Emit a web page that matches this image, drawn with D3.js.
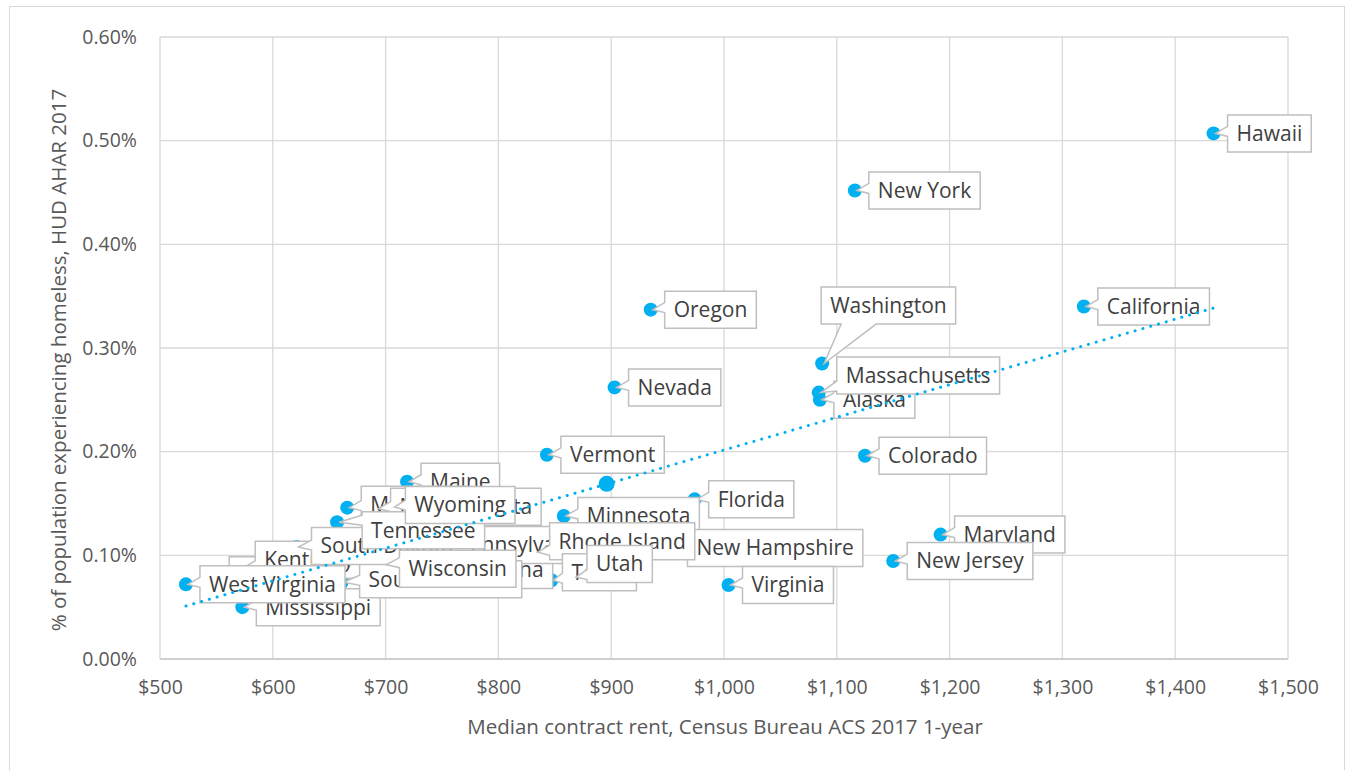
<!DOCTYPE html>
<html lang="en">
<head>
<meta charset="utf-8">
<title>Homelessness vs rent</title>
<style>
  body { margin: 0; background: #fff; }
  svg text { font-family: "Open Sans", sans-serif; }
  .grid line { stroke: #d9d9d9; stroke-width: 1.3; }
  .axis text { fill: #595959; font-size: 19.5px; }
  .title { fill: #595959; font-size: 20.5px; }
  .callout path { fill: #fff; stroke: #bfbfbf; stroke-width: 1.5; }
  .callout text { fill: #404040; font-size: 21px; }
</style>
</head>
<body>
<svg width="1353" height="770"></svg>
<script src="https://d3js.org/d3.v7.min.js"></script>
<script>
// states in alphabetical order (labels are drawn in this order, later ones on top)
var states = ["Alaska", "Arkansas", "California", "Colorado", "Florida", "Hawaii", "Kentucky",
  "Maine", "Maryland", "Massachusetts", "Minnesota", "Mississippi", "Montana", "Nevada",
  "New Hampshire", "New Jersey", "New York", "North Carolina", "North Dakota", "Oregon",
  "Pennsylvania", "Rhode Island", "South Carolina", "South Dakota", "Tennessee", "Texas",
  "Utah", "Vermont", "Virginia", "Washington", "West Virginia", "Wisconsin", "Wyoming"];
// median contract rent ($)
var rent = [1085, 549, 1319, 1125, 974, 1434, 572,
  719, 1192, 1084, 858, 573, 666, 903,
  957, 1150, 1116, 692, 692, 935,
  743, 833, 661, 621, 657, 847,
  867, 843, 1004, 1087, 523, 699, 706];
// % of population experiencing homelessness
var homelessPct = [0.250, 0.078, 0.340, 0.196, 0.154, 0.507, 0.088,
  0.171, 0.120, 0.257, 0.138, 0.050, 0.146, 0.262,
  0.110, 0.0945, 0.452, 0.081, 0.145, 0.337,
  0.110, 0.103, 0.074, 0.108, 0.132, 0.076,
  0.079, 0.197, 0.0714, 0.285, 0.072, 0.091, 0.1466];
// national point (no label)
var usPoint = [896, 0.169];
// linear trendline ends [rent, pct]
var trendEnds = [[523, 0.0511], [1434, 0.3385]];
var xTicks = [500, 600, 700, 800, 900, 1000, 1100, 1200, 1300, 1400, 1500];
var yTicks = [0, 0.1, 0.2, 0.3, 0.4, 0.5, 0.6];

// label placement tweaks: box left = x + dx, box middle = y + dy
var nudge = {
  "Washington": {dx: -1, dy: -58},
  "Massachusetts": {dx: 18, dy: -17},
  "Tennessee": {dx: 25, dy: 8},
  "Rhode Island": {dx: 14, dy: -11},
  "Utah": {dx: 13, dy: -13},
  "South Carolina": {dx: 18, dy: -3},
  "South Dakota": {dx: 15, dy: -1},
  "Wisconsin": {dx: 15, dy: 4},
  "Kentucky": {dx: 14, dy: -8},
  "Arkansas": {dx: 14, dy: -3},
  "Montana": {dx: 14, dy: -3},
  "Wyoming": {dx: 13, dy: -2},
  "North Dakota": {dx: 14, dy: -2},
  "North Carolina": {dx: 14, dy: -5},
  "Texas": {dx: 11, dy: -8},
  "New Hampshire": {dx: 12, dy: 3}
};

var data = states.map(function(s, i) { return {name: s, rent: rent[i], pct: homelessPct[i]}; });

var svg = d3.select("svg"),
    plot = {left: 160, right: 1288, top: 37, bottom: 659},
    blue = "#00b0f0";

var x = d3.scaleLinear().domain([500, 1500]).range([plot.left, plot.right]),
    y = d3.scaleLinear().domain([0, 0.6]).range([plot.bottom, plot.top]);

// outer frame
svg.append("rect")
  .attr("x", 9.5).attr("y", 6.5).attr("width", 1335).attr("height", 800)
  .attr("fill", "none").attr("stroke", "#d9d9d9");

// grid
var grid = svg.append("g").attr("class", "grid");
grid.selectAll(".h").data(yTicks).enter().append("line")
  .attr("x1", plot.left).attr("x2", plot.right)
  .attr("y1", function(d) { return y(d); }).attr("y2", function(d) { return y(d); });
grid.selectAll(".v").data(xTicks).enter().append("line")
  .attr("y1", plot.top).attr("y2", plot.bottom)
  .attr("x1", function(d) { return x(d); }).attr("x2", function(d) { return x(d); });
svg.append("line")
  .attr("x1", plot.left).attr("x2", plot.right).attr("y1", plot.bottom).attr("y2", plot.bottom)
  .attr("stroke", "#c8c8c8").attr("stroke-width", 1.3);

// axes (labels only)
var xAxis = d3.axisBottom(x).tickValues(xTicks).tickSize(0).tickPadding(21)
      .tickFormat(d3.format("$,.0f")),
    yAxis = d3.axisLeft(y).tickValues(yTicks).tickSize(0).tickPadding(23)
      .tickFormat(function(d) { return d.toFixed(2) + "%"; });

svg.append("g").attr("class", "axis")
  .attr("transform", "translate(0," + plot.bottom + ")")
  .call(xAxis).call(function(g) { g.select(".domain").remove(); })
  .selectAll("text").attr("font-family", null).attr("font-size", null);
svg.append("g").attr("class", "axis")
  .attr("transform", "translate(" + plot.left + ",0)")
  .call(yAxis).call(function(g) { g.select(".domain").remove(); })
  .selectAll("text").attr("font-family", null).attr("font-size", null);

svg.append("text").attr("class", "title")
  .attr("x", 725).attr("y", 734)
  .attr("text-anchor", "middle")
  .text("Median contract rent, Census Bureau ACS 2017 1-year");
svg.append("text").attr("class", "title")
  .attr("transform", "translate(66,360) rotate(-90)")
  .attr("text-anchor", "middle")
  .text("% of population experiencing homeless, HUD AHAR 2017");

// points
svg.append("g").selectAll("circle").data(data).enter().append("circle")
  .attr("cx", function(d) { return x(d.rent); })
  .attr("cy", function(d) { return y(d.pct); })
  .attr("r", 7).attr("fill", blue);
svg.append("circle")
  .attr("cx", x(usPoint[0])).attr("cy", y(usPoint[1]))
  .attr("r", 8).attr("fill", blue);

// callout labels
function calloutPath(bx, by, bw, bh, tx, ty) {
  var p = "M" + bx + "," + by + "H" + (bx + bw);
  if (ty > by + bh) { // tail from bottom edge
    var x1 = bx + 20, x2 = bx + 55;
    return p + "V" + (by + bh) + "H" + x2 + "L" + tx + "," + ty + "L" + x1 + "," + (by + bh) + "H" + bx + "Z";
  }
  if (tx < bx) { // tail from left edge
    var c = Math.max(by + 8, Math.min(by + bh - 6, ty));
    return p + "V" + (by + bh) + "H" + bx + "V" + (c + 3) + "L" + tx + "," + ty + "L" + bx + "," + (c - 7) + "Z";
  }
  return p + "V" + (by + bh) + "H" + bx + "Z";
}

var labels = svg.append("g").selectAll("g").data(data).enter().append("g").attr("class", "callout");
labels.each(function(d) {
  var g = d3.select(this),
      n = nudge[d.name] || {dx: 14, dy: 0},
      px = x(d.rent), py = y(d.pct),
      bh = 37, bx = px + n.dx, by = py + n.dy - bh / 2;
  var path = g.append("path");
  var t = g.append("text").attr("x", bx + 9).attr("y", by + bh / 2).attr("dy", "0.35em").text(d.name);
  var bw = t.node().getComputedTextLength() + 18;
  path.attr("d", calloutPath(bx, by, bw, bh, px + 2, py));
});

// trendline
svg.append("line")
  .attr("x1", x(trendEnds[0][0])).attr("y1", y(trendEnds[0][1]))
  .attr("x2", x(trendEnds[1][0])).attr("y2", y(trendEnds[1][1]))
  .attr("stroke", blue).attr("stroke-width", 3)
  .attr("stroke-linecap", "round").attr("stroke-dasharray", "0.1 8");
</script>
</body>
</html>
